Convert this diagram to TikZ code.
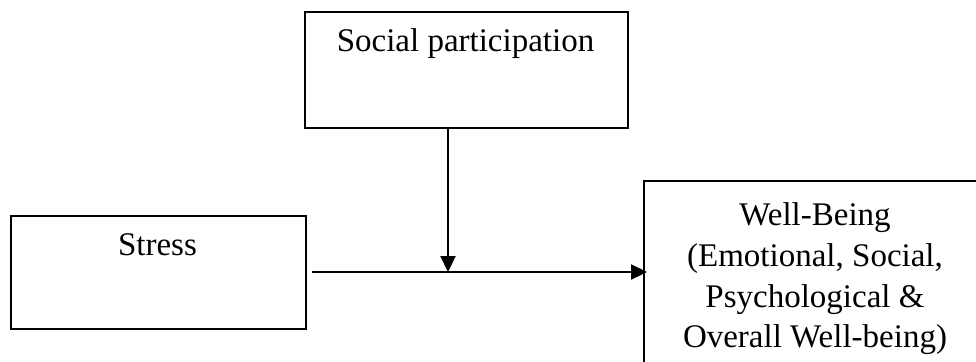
\documentclass[tikz,border=0pt]{standalone}
\usepackage{fontspec}
\setmainfont{Liberation Serif}
\usetikzlibrary{arrows.meta}
\tikzset{
  box/.style={draw=black, line width=2.2pt, inner sep=0pt, anchor=north west},
  txt/.style={inner sep=0pt, anchor=base, font=\fontsize{33}{41}\selectfont},
  conn/.style={draw=black, line width=2.2pt, -{Triangle[length=16pt,width=15pt]}}
}
\begin{document}
\begin{tikzpicture}[x=1pt,y=-1pt]
\useasboundingbox (0,0) rectangle (976,361);
% boxes
\node[box, minimum width=323pt, minimum height=116pt] (sp) at (304,11) {};
\node[box, minimum width=295pt, minimum height=113pt] (st) at (10,215) {};
\node[box, minimum width=344pt, minimum height=200pt] (wb) at (643,180) {};
% texts
\node[txt] (sptxt) at (465.5,52) {Social participation};
\node[txt] (sttxt) at (157.5,255) {Stress};
\node[txt] (wb1) at (815,225) {Well-Being};
\node[txt] (wb2) at (815,266) {(Emotional, Social,};
\node[txt] (wb3) at (815,307) {Psychological \&};
\node[txt] (wb4) at (815,347) {Overall Well-being)};
% connectors
\coordinate (m) at (448,272);
\draw[conn, shorten <=5pt, shorten >=-4pt] (st.east |- m) -- (wb.west |- m);
\draw[conn] (sp.south -| m) -- (m);
\end{tikzpicture}
\end{document}
